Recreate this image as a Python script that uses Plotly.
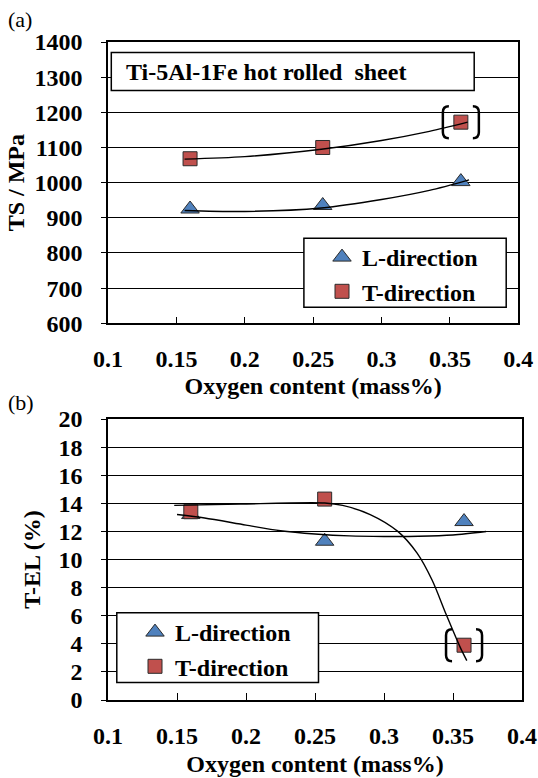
import plotly.graph_objects as go

# ---------------- data ----------------
oxygen = [0.16, 0.257, 0.358]

ts_L = [925, 935, 1003]
ts_T = [1068, 1100, 1172]

el_L = [13.2, 11.3, 12.7]
el_T = [13.4, 14.3, 3.9]

# hand-drawn trend curves
ts_L_fit_x = [0.156, 0.2, 0.256, 0.3, 0.335, 0.364]
ts_L_fit_y = [921, 918, 928, 952, 978, 1008]
ts_T_fit_x = [0.156, 0.2, 0.256, 0.3, 0.335, 0.363]
ts_T_fit_y = [1067, 1074, 1095, 1120, 1146, 1172]

el_L_fit_x = [0.15, 0.17, 0.2, 0.225, 0.25, 0.275, 0.3, 0.325, 0.35, 0.374]
el_L_fit_y = [13.2, 12.95, 12.45, 12.05, 11.82, 11.68, 11.64, 11.65, 11.74, 11.99]
el_T_fit_x = [0.148, 0.196, 0.257, 0.27, 0.29, 0.31, 0.324, 0.335, 0.345, 0.355, 0.36]
el_T_fit_y = [13.85, 13.95, 14.02, 13.85, 13.2, 12.0, 10.45, 8.5, 6.1, 3.8, 2.8]

x_ticks = [0.1, 0.15, 0.2, 0.25, 0.3, 0.35, 0.4]
x_tick_text = ["0.1", "0.15", "0.2", "0.25", "0.3", "0.35", "0.4"]

series_names = ["L-direction", "T-direction"]
panel_labels = ["(a)", "(b)"]
title_text = "Ti-5Al-1Fe hot rolled  sheet"
x_title = "Oxygen content (mass%)"
y_titles = ["TS / MPa", "T-EL (%)"]

# ---------------- styling ----------------
W, H = 538, 778
LM, RM, TM, BM = 108, 16, 42, 78
PW, PH = W - LM - RM, H - TM - BM


def px(x):
    return (x - LM) / PW


def py(y):
    return (H - BM - y) / PH


FONT = "Times New Roman, Liberation Serif, Tinos, serif"
BLUE = "#4F81BD"
RED = "#C0504D"
EDGE = "#2b2b2b"

bold = dict(family=FONT, size=24, color="black", weight="bold")

fig = go.Figure()

# ---- panel (a) ----
fig.add_trace(go.Scatter(x=oxygen, y=ts_L, mode="markers", name=series_names[0],
                         marker=dict(symbol="triangle-up", size=16, color=BLUE,
                                     line=dict(color=EDGE, width=1)),
                         xaxis="x", yaxis="y", legend="legend", legendgroup="a1"))
fig.add_trace(go.Scatter(x=oxygen, y=ts_T, mode="markers", name=series_names[1],
                         marker=dict(symbol="square", size=14, color=RED,
                                     line=dict(color=EDGE, width=1)),
                         xaxis="x", yaxis="y", legend="legend", legendgroup="a2"))
fig.add_trace(go.Scatter(x=ts_L_fit_x, y=ts_L_fit_y, mode="lines", showlegend=False,
                         line=dict(color="black", width=1.4, shape="spline", smoothing=0.8),
                         xaxis="x", yaxis="y", hoverinfo="skip"))
fig.add_trace(go.Scatter(x=ts_T_fit_x, y=ts_T_fit_y, mode="lines", showlegend=False,
                         line=dict(color="black", width=1.4, shape="spline", smoothing=0.8),
                         xaxis="x", yaxis="y", hoverinfo="skip"))

# ---- panel (b) ----
fig.add_trace(go.Scatter(x=oxygen, y=el_L, mode="markers", name=series_names[0],
                         marker=dict(symbol="triangle-up", size=16, color=BLUE,
                                     line=dict(color=EDGE, width=1)),
                         xaxis="x2", yaxis="y2", legend="legend2", legendgroup="b1"))
fig.add_trace(go.Scatter(x=oxygen, y=el_T, mode="markers", name=series_names[1],
                         marker=dict(symbol="square", size=14, color=RED,
                                     line=dict(color=EDGE, width=1)),
                         xaxis="x2", yaxis="y2", legend="legend2", legendgroup="b2"))
fig.add_trace(go.Scatter(x=el_L_fit_x, y=el_L_fit_y, mode="lines", showlegend=False,
                         line=dict(color="black", width=1.4, shape="spline", smoothing=0.8),
                         xaxis="x2", yaxis="y2", hoverinfo="skip"))
fig.add_trace(go.Scatter(x=el_T_fit_x, y=el_T_fit_y, mode="lines", showlegend=False,
                         line=dict(color="black", width=1.4, shape="spline", smoothing=0.8),
                         xaxis="x2", yaxis="y2", hoverinfo="skip"))

common_x = dict(range=[0.1, 0.4], tickvals=x_ticks, ticktext=x_tick_text,
                showgrid=False, zeroline=False, showline=True, linecolor="black",
                linewidth=1.5, mirror=True, ticks="inside", ticklen=7, tickwidth=1.3,
                tickcolor="black", tickfont=bold, ticklabelstandoff=13, automargin=False,
                title=dict(text=x_title, font=bold, standoff=6))
common_y = dict(showgrid=True, gridcolor="black", gridwidth=1.3, zeroline=False,
                showline=True, linecolor="black", linewidth=1.5, mirror=True,
                ticks="outside", ticklen=5, tickwidth=1.3, tickcolor="black",
                tickfont=bold, ticklabelstandoff=14, automargin=False)

fig.update_layout(
    width=W, height=H,
    margin=dict(l=LM, r=RM, t=TM, b=BM),
    paper_bgcolor="white", plot_bgcolor="white",
    xaxis=dict(common_x, domain=[0, px(518.3)], anchor="y"),
    yaxis=dict(common_y, domain=[py(323.3), 1], anchor="x", range=[600, 1400], dtick=100,
               title=dict(text=y_titles[0], font=bold, standoff=3)),
    xaxis2=dict(common_x, domain=[0, 1], anchor="y2",
                title=dict(text=x_title, font=bold, standoff=8)),
    yaxis2=dict(common_y, domain=[0, py(419)], anchor="x2", range=[0, 20], dtick=2,
                title=dict(text=y_titles[1], font=bold, standoff=11)),
    legend=dict(x=px(322), y=py(235), xanchor="left", yanchor="top",
                bgcolor="rgba(0,0,0,0)", borderwidth=0, font=bold,
                tracegroupgap=0, traceorder="normal"),
    legend2=dict(x=px(135), y=py(610), xanchor="left", yanchor="top",
                 bgcolor="rgba(0,0,0,0)", borderwidth=0, font=bold,
                 tracegroupgap=1, traceorder="normal"),
    showlegend=True,
)

# boxes (title box and legend frames)
box_line = dict(color="black", width=1.5)
for (x0, y0, x1, y1) in [(111.3, 52.6, 474.2, 90.6),
                         (303.9, 238.3, 506.2, 307.3),
                         (116.8, 612.7, 318.5, 682.5)]:
    fig.add_shape(type="rect", xref="paper", yref="paper",
                  x0=px(x0), x1=px(x1), y0=py(y1), y1=py(y0),
                  line=box_line, fillcolor="white", layer="above")

# brackets around the bracketed T-direction points
left_br = "M -12,16 Q -18,16 -18,10 L -18,-10 Q -18,-16 -12,-16"
right_br = "M 12,16 Q 18,16 18,10 L 18,-10 Q 18,-16 12,-16"
for xr, yr, xv, yv in [("x", "y", oxygen[2], ts_T[2]), ("x2", "y2", oxygen[2], el_T[2])]:
    for p in (left_br, right_br):
        fig.add_shape(type="path", xref=xr, yref=yr, xsizemode="pixel", ysizemode="pixel",
                      xanchor=xv, yanchor=yv, path=p,
                      line=dict(color="black", width=2.5), layer="above")

# title text inside the box
fig.add_annotation(xref="paper", yref="paper", x=px(124), y=py(72), xanchor="left",
                   yanchor="middle", text=title_text, showarrow=False, font=bold)

# panel labels
for lab, yy in zip(panel_labels, [20, 402]):
    fig.add_annotation(xref="paper", yref="paper", x=px(6), y=py(yy), xanchor="left",
                       yanchor="middle", text=lab, showarrow=False,
                       font=dict(family=FONT, size=22, color="black"))

fig.write_html("out.html")
